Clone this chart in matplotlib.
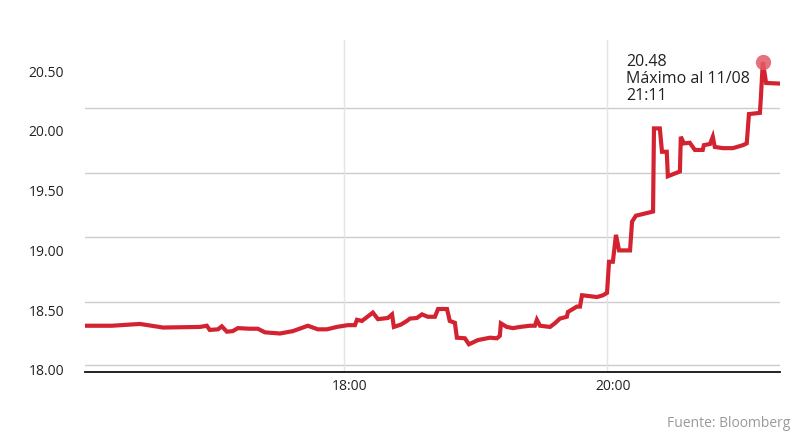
import numpy as np
import matplotlib
matplotlib.use("Agg")
import matplotlib.pyplot as plt
import matplotlib.transforms as mtransforms

# price series (time of quote, value)
times = [
    "16:01:40", "16:14:00", "16:26:50", "16:37:20", "16:54:10", "16:57:20",
    "16:58:40", "17:02:25", "17:04:10", "17:06:30", "17:09:10", "17:11:30",
    "17:17:00", "17:20:35", "17:23:50", "17:30:40", "17:36:35", "17:43:25",
    "17:48:00", "17:52:05", "17:56:40", "18:01:40", "18:04:55", "18:05:50",
    "18:08:05", "18:13:05", "18:15:25", "18:19:55", "18:21:50", "18:22:40",
    "18:25:55", "18:28:35", "18:30:00", "18:33:10", "18:35:30", "18:38:10",
    "18:41:25", "18:42:50", "18:46:55", "18:48:10", "18:50:30", "18:51:25",
    "18:55:05", "18:56:55", "19:01:00", "19:06:30", "19:09:40", "19:11:00",
    "19:11:30", "19:14:10", "19:17:00", "19:20:10", "19:24:40", "19:27:00",
    "19:27:55", "19:29:20", "19:33:55", "19:36:05", "19:38:25", "19:41:35",
    "19:42:05", "19:44:20", "19:46:10", "19:47:35", "19:48:30", "19:50:50",
    "19:55:20", "19:58:05", "19:59:55", "20:00:50", "20:02:35", "20:04:00",
    "20:05:25", "20:10:25", "20:11:20", "20:13:05", "20:20:55", "20:21:20",
    "20:24:00", "20:25:00", "20:27:10", "20:27:40", "20:33:10", "20:33:35",
    "20:35:00", "20:37:40", "20:40:00", "20:43:35", "20:44:05", "20:46:55",
    "20:48:10", "20:49:05", "20:52:50", "20:57:20", "21:01:55", "21:03:40",
    "21:04:40", "21:09:40", "21:10:05", "21:11:00", "21:12:30", "21:18:50",
]
values = [
    18.37, 18.37, 18.385, 18.355, 18.36, 18.37,
    18.335, 18.34, 18.365, 18.32, 18.325, 18.35,
    18.345, 18.345, 18.315, 18.305, 18.325, 18.37,
    18.34, 18.34, 18.36, 18.375, 18.375, 18.42,
    18.41, 18.48, 18.425, 18.435, 18.465, 18.36,
    18.38, 18.41, 18.43, 18.435, 18.465, 18.445,
    18.445, 18.51, 18.51, 18.41, 18.395, 18.27,
    18.265, 18.215, 18.25, 18.27, 18.265, 18.285,
    18.39, 18.36, 18.35, 18.36, 18.37, 18.37,
    18.42, 18.37, 18.36, 18.39, 18.43, 18.445,
    18.485, 18.51, 18.53, 18.53, 18.625, 18.62,
    18.61, 18.625, 18.645, 18.905, 18.905, 19.13,
    19.00, 19.00, 19.24, 19.29, 19.325, 20.02,
    20.02, 19.825, 19.825, 19.62, 19.66, 19.95,
    19.895, 19.90, 19.84, 19.84, 19.88, 19.89,
    19.95, 19.865, 19.855, 19.855, 19.88, 19.895,
    20.14, 20.15, 20.27, 20.575, 20.40, 20.395,
]

y_ticks = [18.0, 18.5, 19.0, 19.5, 20.0, 20.5]
y_tick_labels = ["18.00", "18.50", "19.00", "19.50", "20.00", "20.50"]
x_ticks = ["18:00", "20:00"]
grid_levels = [18.04, 18.57, 19.11, 19.65, 20.19]
peak_label = "20.48\nMáximo al 11/08\n21:11"
source = "Fuente: Bloomberg"


def to_hours(t):
    parts = [int(p) for p in t.split(":")]
    while len(parts) < 3:
        parts.append(0)
    return parts[0] + parts[1] / 60 + parts[2] / 3600


x = np.array([to_hours(t) for t in times])
y = np.array(values)

plt.rcParams["font.family"] = ["Open Sans", "DejaVu Sans"]

fig = plt.figure(figsize=(8, 4.45), dpi=100)
ax = fig.add_axes([0.106, 0.164, 0.869, 0.746])

ax.set_xlim(x[0], x[-1])
ax.set_ylim(17.983, 20.759)

for g in grid_levels:
    ax.axhline(g, color="#cccccc", lw=1, zorder=1)
for t in x_ticks:
    ax.axvline(to_hours(t), color="#e4e4e4", lw=1, zorder=1)

ax.plot(x, y, color="#d42330", lw=3, solid_joinstyle="miter", zorder=3)

ip = int(np.argmax(y))
ax.plot(x[ip], y[ip], "o", ms=11, color="#e05a66", alpha=0.85,
        markeredgewidth=0, zorder=4)
ax.annotate(peak_label, xy=(x[ip], y[ip]), xytext=(-98.5, -12.5),
            textcoords="offset points", ha="left", va="center",
            fontsize=11.5, color="#222222", linespacing=1.08)

ax.set_yticks(y_ticks)
ax.set_yticklabels(y_tick_labels)
ax.set_xticks([to_hours(t) for t in x_ticks])
ax.set_xticklabels(x_ticks)
ax.tick_params(axis="y", length=0, pad=15, labelsize=10, labelcolor="#222222")
ax.tick_params(axis="x", length=0, pad=5, labelsize=10, labelcolor="#222222")

# x labels sit a little right of their gridlines
shift = mtransforms.ScaledTranslation(4 / 72, 0, fig.dpi_scale_trans)
for lbl in ax.get_xticklabels():
    lbl.set_transform(lbl.get_transform() + shift)

for side in ["top", "right", "left"]:
    ax.spines[side].set_visible(False)
ax.spines["bottom"].set_color("#111111")
ax.spines["bottom"].set_linewidth(1.3)

fig.text(0.988, 0.048, source, ha="right", va="center", fontsize=10,
         color="#999999")

fig.savefig("out.png", dpi=100)
